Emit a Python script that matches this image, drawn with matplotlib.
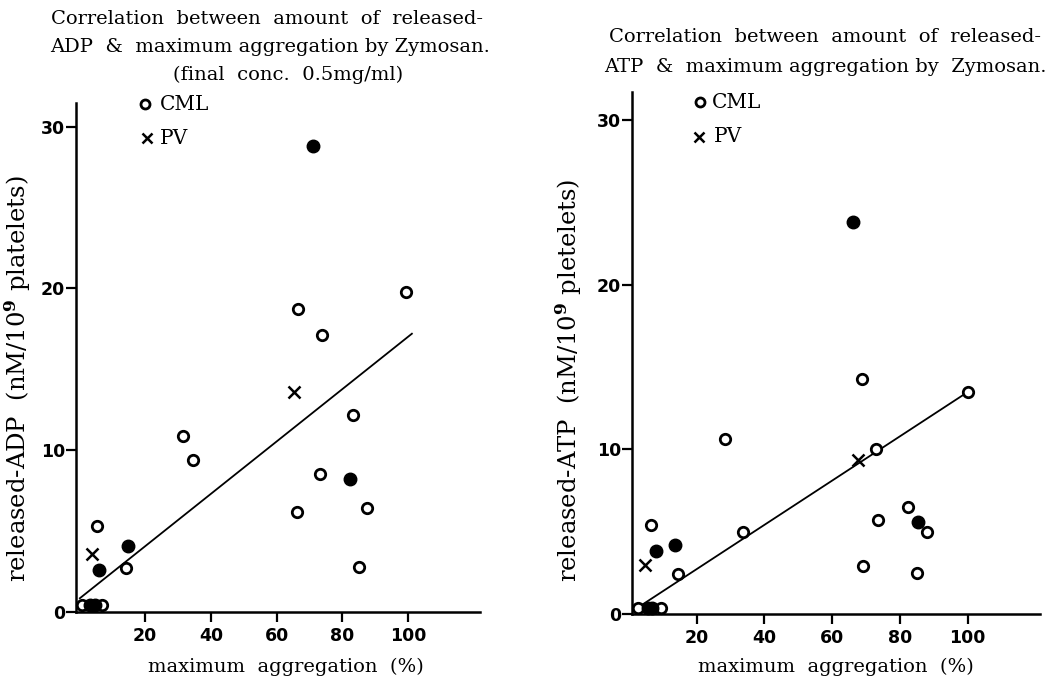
import matplotlib
matplotlib.use("Agg")
import matplotlib.pyplot as plt

# ---------------- data ----------------
# Left panel: released-ADP vs maximum aggregation
cml_adp_x = [99.3, 66.5, 73.9, 83.3, 31.5, 34.6, 73.3, 66.3, 87.4, 85.0, 5.5, 14.2, 0.9, 7.0]
cml_adp_y = [19.8, 18.7, 17.1, 12.2, 10.9, 9.4, 8.5, 6.2, 6.4, 2.8, 5.3, 2.7, 0.43, 0.43]
fill_adp_x = [71.2, 82.4, 14.7, 6.0, 3.2, 4.8]
fill_adp_y = [28.8, 8.2, 4.1, 2.6, 0.43, 0.43]
pv_adp_x = [65.4, 3.9]
pv_adp_y = [13.6, 3.6]
fit_adp_x = [0.2, 101.1]
fit_adp_y = [0.85, 17.2]

# Right panel: released-ATP vs maximum aggregation
cml_atp_x = [100.2, 68.9, 72.9, 28.5, 33.7, 82.3, 73.6, 88.0, 69.1, 85.0, 6.5, 14.5, 2.8, 9.4]
cml_atp_y = [13.5, 14.3, 10.0, 10.6, 5.0, 6.5, 5.7, 5.0, 2.9, 2.5, 5.4, 2.4, 0.35, 0.35]
fill_atp_x = [66.2, 85.4, 8.0, 13.6, 5.5, 6.8]
fill_atp_y = [23.8, 5.6, 3.8, 4.2, 0.35, 0.35]
pv_atp_x = [4.8, 67.7]
pv_atp_y = [3.0, 9.35]
fit_atp_x = [4.2, 100.2]
fit_atp_y = [0.6, 13.5]

x_ticks = [20, 40, 60, 80, 100]
y_ticks = [0, 10, 20, 30]

title_left = ["Correlation  between  amount  of  released-",
              "ADP  &  maximum aggregation by Zymosan.",
              "(final  conc.  0.5mg/ml)"]
title_right = ["Correlation  between  amount  of  released-",
               "ATP  &  maximum aggregation by  Zymosan."]
ylabel_left = "released-ADP  (nM/10$^{\\mathbf{9}}$ platelets)"
ylabel_right = "released-ATP  (nM/10$^{\\mathbf{9}}$ pletelets)"
xlabel = "maximum  aggregation  (%)"
legend_labels = ["CML", "PV"]

# ---------------- figure ----------------
W, H = 1050, 678
fig = plt.figure(figsize=(W / 100, H / 100), dpi=100)

def fx(px):
    return px / W

def fy(py):
    return 1 - py / H

SERIF = ["DejaVu Serif"]
TICKF = ["DejaVu Sans"]
plt.rcParams['mathtext.fontset'] = 'dejavuserif'


def make_axes(rect_px, xlim, ylim):
    x0, y0, x1, y1 = rect_px
    ax = fig.add_axes([fx(x0), fy(y1), fx(x1) - fx(x0), (y1 - y0) / H])
    ax.set_xlim(*xlim)
    ax.set_ylim(*ylim)
    for s in ("top", "right"):
        ax.spines[s].set_visible(False)
    for s in ("left", "bottom"):
        ax.spines[s].set_linewidth(1.8)
        ax.spines[s].set_color("black")
    ax.set_xticks(x_ticks)
    ax.set_yticks(y_ticks)
    ax.tick_params(axis="both", direction="out", length=7, width=1.6,
                   colors="black", labelsize=12.5)
    ax.tick_params(axis="y", pad=1)
    ax.tick_params(axis="x", pad=4)
    for lab in ax.get_xticklabels() + ax.get_yticklabels():
        lab.set_fontfamily(TICKF)
        lab.set_fontweight("bold")
    ax.patch.set_alpha(0)
    return ax


def draw_panel(ax, cx, cy, fxs, fys, pxs, pys, lx, ly):
    ax.plot(lx, ly, color="black", lw=1.3, zorder=2)
    ax.plot(cx, cy, "o", ms=7.5, mfc="white", mec="black", mew=2.0,
            ls="none", clip_on=False, zorder=3)
    ax.plot(fxs, fys, "o", ms=9, mfc="black", mec="black", mew=1,
            ls="none", clip_on=False, zorder=4)
    ax.plot(pxs, pys, "x", ms=8, mec="black", mew=1.8, ls="none",
            clip_on=False, zorder=3)


# left axes: x from 76 to 480 px, y from 103 to 612 px
axL = make_axes((76, 103, 480, 612), (-0.97, 121.8), (0, 31.46))
draw_panel(axL, cml_adp_x, cml_adp_y, fill_adp_x, fill_adp_y,
           pv_adp_x, pv_adp_y, fit_adp_x, fit_adp_y)

# right axes: x from 632 to 1040 px, y from 92 to 614 px
axR = make_axes((632, 92, 1040, 614), (0.92, 121.4), (0, 31.7))
draw_panel(axR, cml_atp_x, cml_atp_y, fill_atp_x, fill_atp_y,
           pv_atp_x, pv_atp_y, fit_atp_x, fit_atp_y)

# titles
tkw = dict(family=SERIF, fontsize=14, color="black", va="center")
fig.text(fx(267), fy(19), title_left[0], ha="center", **tkw)
fig.text(fx(270), fy(47), title_left[1], ha="center", **tkw)
fig.text(fx(288), fy(75), title_left[2], ha="center", **tkw)
fig.text(fx(825), fy(37), title_right[0], ha="center", **tkw)
fig.text(fx(825), fy(67), title_right[1], ha="center", **tkw)

# axis labels
fig.text(fx(286), fy(667), xlabel, ha="center", va="center",
         family=SERIF, fontsize=14)
fig.text(fx(836), fy(667), xlabel, ha="center", va="center",
         family=SERIF, fontsize=14)
fig.text(fx(18), fy(379), ylabel_left, ha="center", va="center",
         rotation=90, family=SERIF, fontsize=17.5)
fig.text(fx(569), fy(380), ylabel_right, ha="center", va="center",
         rotation=90, family=SERIF, fontsize=17.5)

# legend keys
leg = [((145, 104), (160, 104), "o", legend_labels[0]),
       ((147, 138), (160, 138), "x", legend_labels[1]),
       ((700, 102), (712, 102), "o", legend_labels[0]),
       ((699, 137), (714, 137), "x", legend_labels[1])]
for (mx, my), (tx, ty), mk, lab in leg:
    if mk == "o":
        fig.lines.append(plt.Line2D([fx(mx)], [fy(my)], marker="o", ms=6.5,
                                    mfc="white", mec="black", mew=2.0,
                                    transform=fig.transFigure, ls="none"))
    else:
        fig.lines.append(plt.Line2D([fx(mx)], [fy(my)], marker="x", ms=6.5,
                                    mec="black", mew=1.8,
                                    transform=fig.transFigure, ls="none"))
    fig.text(fx(tx), fy(ty), lab, ha="left", va="center", family=SERIF,
             fontsize=14.5)

fig.savefig("out.png", dpi=100, facecolor="white")
